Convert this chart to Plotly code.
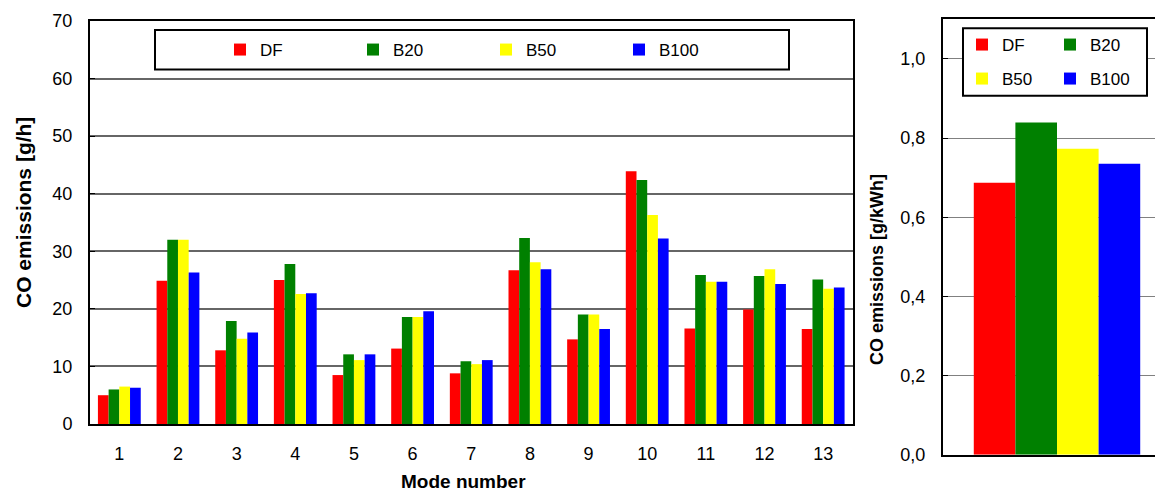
import plotly.graph_objects as go

modes = [str(i) for i in range(1, 14)]
series_names = ["DF", "B20", "B50", "B100"]
colors = ["#FF0000", "#008000", "#FFFF00", "#0000FF"]

df_gh = [5.0, 24.9, 12.8, 25.0, 8.5, 13.1, 8.8, 26.7, 14.7, 43.9, 16.6, 19.9, 16.5]
b20_gh = [6.0, 32.0, 17.9, 27.8, 12.1, 18.6, 10.9, 32.3, 19.0, 42.4, 25.9, 25.7, 25.1]
b50_gh = [6.5, 32.0, 14.8, 22.6, 11.1, 18.6, 10.4, 28.1, 19.0, 36.3, 24.7, 26.9, 23.5]
b100_gh = [6.3, 26.3, 15.9, 22.7, 12.1, 19.6, 11.1, 26.9, 16.5, 32.2, 24.7, 24.3, 23.7]

specific_kwh = [0.687, 0.839, 0.773, 0.735]

y_ticks_left = [0, 10, 20, 30, 40, 50, 60, 70]
y_ticks_right = [0.0, 0.2, 0.4, 0.6, 0.8, 1.0]

FONT = "Liberation Sans, Arial, sans-serif"
W, H = 1163, 493
OFF = 8  # page body margin

fig = go.Figure()

left_vals = [df_gh, b20_gh, b50_gh, b100_gh]
for name, col, vals in zip(series_names, colors, left_vals):
    fig.add_trace(go.Bar(x=modes, y=vals, name=name, marker=dict(color=col, line=dict(width=0)),
                         xaxis="x", yaxis="y", legend="legend"))

right_legends = ["legend2", "legend2", "legend3", "legend3"]
for name, col, v, lg in zip(series_names, colors, specific_kwh, right_legends):
    fig.add_trace(go.Bar(x=["avg"], y=[v], name=name, marker=dict(color=col, line=dict(width=0)),
                         xaxis="x2", yaxis="y2", legend=lg))

def px(v):
    return (v - OFF) / W

def py(v):
    return 1 - (v - OFF) / H

tickfont = dict(family=FONT, size=18, color="black")
legfont = dict(family=FONT, size=17, color="black")

fig.update_layout(
    width=W, height=H, autosize=False,
    margin=dict(l=0, r=0, t=0, b=0, autoexpand=False),
    paper_bgcolor="white", plot_bgcolor="white",
    separators=",.",
    barmode="group", bargap=0.27, bargroupgap=0,
    font=dict(family=FONT, color="black"),
    xaxis=dict(domain=[px(90), px(852.5)], anchor="y", type="category", range=[-0.5, 12.5],
               showline=True, linecolor="black", linewidth=2, mirror=True,
               ticks="", tickfont=tickfont, ticklabelstandoff=12, showgrid=False,
               automargin=False),
    yaxis=dict(domain=[py(424), py(21)], anchor="x", range=[0, 70], tickvals=y_ticks_left,
               showline=True, linecolor="black", linewidth=2, mirror=True,
               showgrid=True, gridcolor="#666666", gridwidth=1.6,
               ticks="inside", ticklen=5, tickcolor="black",
               tickfont=tickfont, ticklabelstandoff=12, zeroline=False, automargin=False),
    xaxis2=dict(domain=[px(943), 1.0], anchor="y2", type="category", range=[-0.5, 0.5],
                showline=True, linecolor="black", linewidth=2, mirror=True,
                showticklabels=False, ticks="", showgrid=False, automargin=False),
    yaxis2=dict(domain=[py(454.7), py(19.3)], anchor="x2", range=[0, 1.1], tickvals=y_ticks_right,
                tickformat=".1f",
                showline=True, linecolor="black", linewidth=2, mirror=False,
                showgrid=True, gridcolor="#808080", gridwidth=1,
                ticks="inside", ticklen=5, tickcolor="black",
                tickfont=tickfont, ticklabelstandoff=12, zeroline=False, automargin=False),
    legend=dict(orientation="h", x=px(220), y=py(50), xanchor="left", yanchor="middle",
                entrywidth=88, entrywidthmode="pixels", font=legfont,
                bgcolor="rgba(0,0,0,0)", borderwidth=0, traceorder="normal"),
    legend2=dict(orientation="h", x=px(962), y=py(45), xanchor="left", yanchor="middle",
                 entrywidth=43, entrywidthmode="pixels", font=legfont,
                 bgcolor="rgba(0,0,0,0)", borderwidth=0, traceorder="normal"),
    legend3=dict(orientation="h", x=px(962), y=py(79), xanchor="left", yanchor="middle",
                 entrywidth=43, entrywidthmode="pixels", font=legfont,
                 bgcolor="rgba(0,0,0,0)", borderwidth=0, traceorder="normal"),
    shapes=[
        dict(type="rect", xref="paper", yref="paper", x0=px(155), x1=px(789), y0=py(69.5), y1=py(30),
             line=dict(color="black", width=2), fillcolor="white", layer="above"),
        dict(type="rect", xref="paper", yref="paper", x0=px(963), x1=px(1147), y0=py(95.7), y1=py(28.3),
             line=dict(color="black", width=2), fillcolor="white", layer="above"),
    ],
    annotations=[
        dict(text="<b>Mode number</b>", xref="paper", yref="paper", x=px(463), y=py(481),
             xanchor="center", yanchor="middle", showarrow=False,
             font=dict(family=FONT, size=19, color="black")),
        dict(text="<b>CO emissions [g/h]</b>", xref="paper", yref="paper", x=px(23), y=py(213),
             xanchor="center", yanchor="middle", showarrow=False, textangle=-90,
             font=dict(family=FONT, size=21, color="black")),
        dict(text="<b>CO emissions [g/kWh]</b>", xref="paper", yref="paper", x=px(877), y=py(270),
             xanchor="center", yanchor="middle", showarrow=False, textangle=-90,
             font=dict(family=FONT, size=18, color="black")),
    ],
)

fig.write_html("out.html")
